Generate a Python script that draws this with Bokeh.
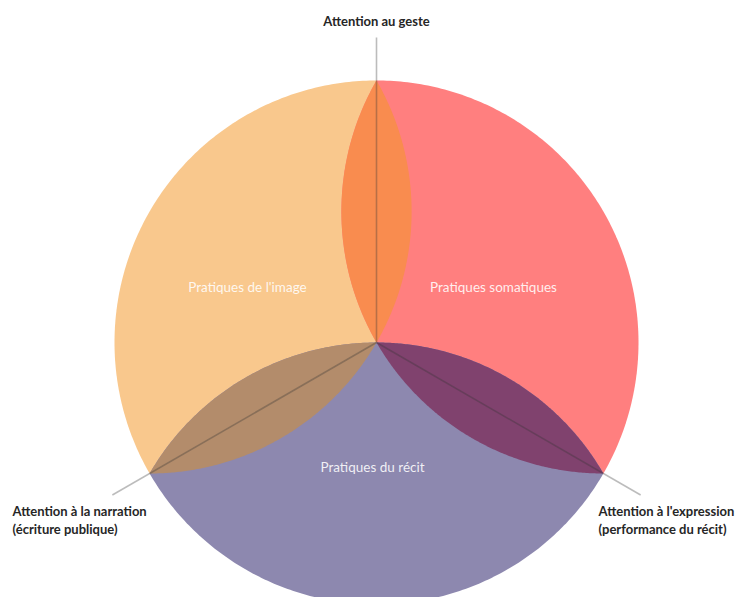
import numpy as np
from bokeh.plotting import figure
from bokeh.models import Range1d
from bokeh.embed import file_html
from bokeh.resources import INLINE
from bokeh.core.properties import value

# ---- data -------------------------------------------------------------
practices = ["Pratiques de l'image", "Pratiques somatiques", "Pratiques du récit"]
practice_dirs = [150, 30, 270]          # direction (deg) of each lens
practice_colors = ["#F9C88D", "#FF7F7F", "#8D88AF"]

overlap_pairs = [(0, 1), (1, 2), (0, 2)]
overlap_colors = ["#F98C4F", "#80426E", "#B38C6B"]

attention_labels = [
    "Attention au geste",
    "Attention à la narration\n(écriture publique)",
    "Attention à l'expression\n(performance du récit)",
]
attention_dirs = [90, 210, 330]

R = 262            # radius of the big circle
AXIS_LEN = 305     # length of the three spokes

# ---- geometry helpers ---------------------------------------------------
def arc(cx, cy, r, a0, a1, n=160):
    a = np.radians(np.linspace(a0, a1, n))
    return cx + r * np.cos(a), cy + r * np.sin(a)

def unit(deg):
    return np.cos(np.radians(deg)), np.sin(np.radians(deg))

def lens(d):
    # big circle intersected with circle of radius R centred on the rim at angle d
    px, py = R * unit(d)[0], R * unit(d)[1]
    x1, y1 = arc(0, 0, R, d - 60, d + 60)
    x2, y2 = arc(px, py, R, d + 120, d + 240)
    return np.concatenate([x1, x2]), np.concatenate([y1, y2])

def short_delta(a0, a1):
    return ((a1 - a0 + 180) % 360) - 180

def overlap(di, dj):
    ux = unit(di)[0] + unit(dj)[0]
    uy = unit(di)[1] + unit(dj)[1]
    m = np.degrees(np.arctan2(uy, ux))
    vx, vy = R * unit(m)[0], R * unit(m)[1]
    xs, ys = [], []
    for k, d in enumerate((di, dj)):
        px, py = R * unit(d)[0], R * unit(d)[1]
        a_o = d + 180
        a_v = np.degrees(np.arctan2(vy - py, vx - px))
        a_v = a_o + short_delta(a_o, a_v)
        if k == 0:
            x, y = arc(px, py, R, a_o, a_v)
        else:
            x, y = arc(px, py, R, a_v, a_o)
        xs.append(x); ys.append(y)
    return np.concatenate(xs), np.concatenate(ys)

# ---- figure -------------------------------------------------------------
p = figure(width=735, height=597, output_backend="svg", toolbar_location=None,
           x_range=Range1d(-376, 359), y_range=Range1d(-255, 342),
           x_axis_location=None, y_axis_location=None, min_border=0)
p.grid.visible = False
p.outline_line_color = None
p.background_fill_color = "white"
p.border_fill_color = "white"

for d, c in zip(practice_dirs, practice_colors):
    x, y = lens(d)
    p.patch(x, y, fill_color=c, line_color=None)

for (i, j), c in zip(overlap_pairs, overlap_colors):
    x, y = overlap(practice_dirs[i], practice_dirs[j])
    p.patch(x, y, fill_color=c, line_color=None)

for a in attention_dirs:
    ux, uy = unit(a)
    p.line([0, AXIS_LEN * ux], [0, AXIS_LEN * uy], line_color="#333333",
           line_alpha=0.33, line_width=1.6)

# inner labels
inner_pos = [(-129, 56), (117, 56), (-4, -124)]
for (x, y), t in zip(inner_pos, practices):
    p.text([x], [y], text=[t], text_font=value("Lato"), text_font_size="13.5px",
           text_color="white", text_alpha=0.88, text_align="center",
           text_baseline="middle")

# attention labels
att_pos = [((0, 322), "center"), ((-364, -168), "left"), ((222, -168), "left")]
for ((x, y), align), t in zip(att_pos, attention_labels):
    for k, line in enumerate(t.split("\n")):
        p.text([x], [y - 18 * k], text=[line], text_font=value("Lato"),
               text_font_size="13px", text_font_style="bold",
               text_color="#262626", text_align=align, text_baseline="middle")

open("out.html", "w").write(file_html(p, INLINE))
